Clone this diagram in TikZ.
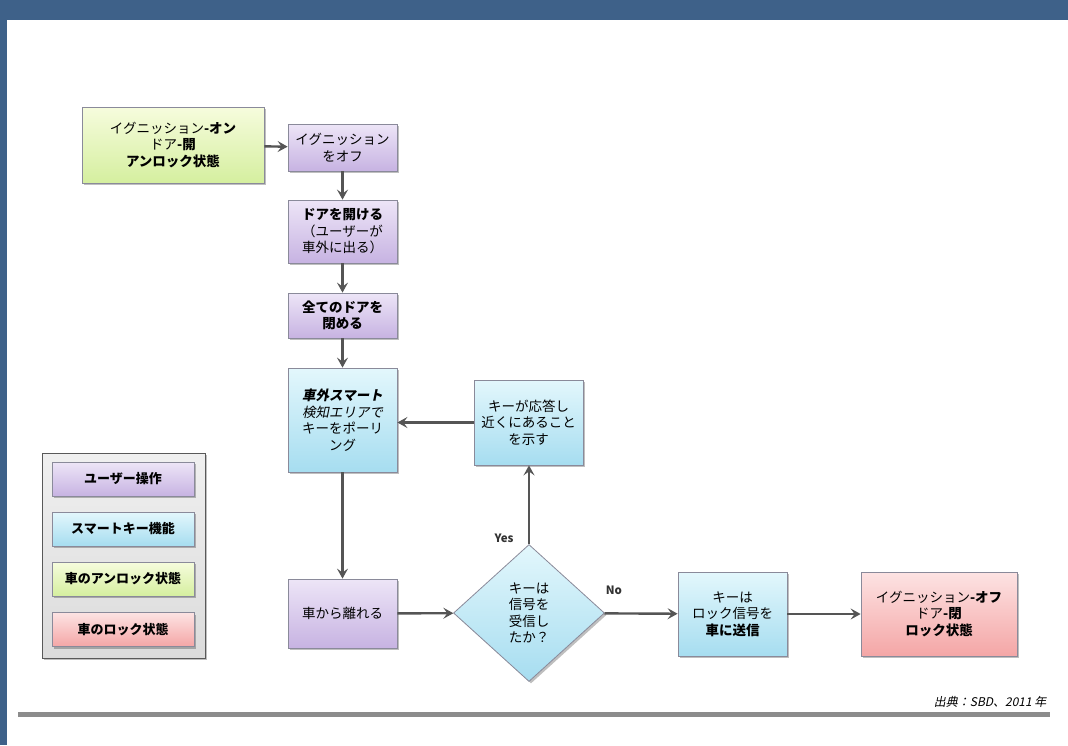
\documentclass[tikz,border=0pt]{standalone}
\usepackage{fontspec}
\setmainfont{Noto Sans CJK JP}
\newfontfamily\slantfont[FakeSlant=0.2]{Noto Sans CJK JP}
\usetikzlibrary{shapes.geometric,arrows.meta,shadows}
\definecolor{bgblue}{HTML}{3E6189}
\definecolor{purpA}{HTML}{EDE5F7}
\definecolor{purpB}{HTML}{C7B3E2}
\definecolor{blueA}{HTML}{E3F7FC}
\definecolor{blueB}{HTML}{A6DDF0}
\definecolor{greenA}{HTML}{F6FCDD}
\definecolor{greenB}{HTML}{D5EF9F}
\definecolor{pinkA}{HTML}{FDE3E3}
\definecolor{pinkB}{HTML}{F4A6A6}
\definecolor{edgegray}{HTML}{8A8A9A}
\definecolor{arrowgray}{HTML}{555555}
\tikzset{
  x=1pt,y=-1pt,
  base/.style={draw=edgegray,line width=0.8pt,align=center,inner sep=1pt,
    font=\fontsize{13.5}{16.5}\selectfont,
    drop shadow={shadow xshift=2pt,shadow yshift=-2pt,fill=black,opacity=0.25}},
  purp/.style={base,top color=purpA,bottom color=purpB},
  bluebox/.style={base,top color=blueA,bottom color=blueB},
  greenbox/.style={base,top color=greenA,bottom color=greenB},
  pinkbox/.style={base,top color=pinkA,bottom color=pinkB},
  legitem/.style={minimum width=142pt,minimum height=34pt,font=\bfseries\fontsize{13}{15}\selectfont},
  arr/.style={draw=arrowgray,line width=2.4pt,-{Stealth[length=10pt,width=11pt,inset=4pt]}},
  lbl/.style={font=\bfseries\fontsize{11.5}{13}\selectfont,text=black!80},
}
\begin{document}
\begin{tikzpicture}
\useasboundingbox (0,0) rectangle (1068,745);
\fill[bgblue] (0,0) rectangle (1068,745);
\fill[white] (7,20) rectangle (1068,745);

% nodes
\node[greenbox,minimum width=182pt,minimum height=76pt] (A) at (173,145)
  {イグニッション\textbf{-オン}\\ドア\textbf{-開}\\\textbf{アンロック状態}};
\node[purp,minimum width=109pt,minimum height=47pt] (B) at (342.5,147.5)
  {イグニッション\\をオフ};
\node[purp,minimum width=109pt,minimum height=63pt] (C) at (342.5,231.5)
  {\textbf{ドアを開ける}\\（ユーザーが\\車外に出る）};
\node[purp,minimum width=109pt,minimum height=45pt] (D) at (342.5,315.5)
  {\textbf{全てのドアを}\\\textbf{閉める}};
\node[bluebox,minimum width=109pt,minimum height=104pt] (E) at (342.5,420)
  {{\slantfont\bfseries 車外スマート}\\{\slantfont 検知エリアで}\\キーをポーリ\\ング};
\node[bluebox,minimum width=109pt,minimum height=85pt] (F) at (528.5,422.5)
  {キーが応答し\\近くにあること\\を示す};
\node[purp,minimum width=109pt,minimum height=69pt] (G) at (342.5,613.5)
  {車から離れる};
\node[bluebox,diamond,minimum width=151pt,minimum height=137pt,aspect=1.1,inner sep=0pt] (H) at (529,613)
  {キーは\\信号を\\受信し\\たか？};
\node[bluebox,minimum width=109pt,minimum height=84pt] (I) at (732.5,614)
  {キーは\\ロック信号を\\\textbf{車に送信}};
\node[pinkbox,minimum width=156pt,minimum height=84pt] (J) at (939,614)
  {イグニッション\textbf{-オフ}\\ドア\textbf{-閉}\\\textbf{ロック状態}};

% legend
\node[draw=black!65,line width=1pt,top color=black!6,bottom color=black!14,
  minimum width=163pt,minimum height=205pt,
  drop shadow={shadow xshift=2pt,shadow yshift=-2pt,fill=black,opacity=0.25}] (L) at (123.5,555.5) {};
\node[purp,legitem] (L1) at (123,479) {ユーザー操作};
\node[bluebox,legitem] (L2) at (123,529) {スマートキー機能};
\node[greenbox,legitem] (L3) at (123,579) {車のアンロック状態};
\node[pinkbox,legitem] (L4) at (123,629.5) {車のロック状態};

% connectors
\draw[arr] (A) -- (B);
\draw[arr] (B) -- (C);
\draw[arr] (C) -- (D);
\draw[arr] (D) -- (E);
\draw[arr] (F.west) -- (E.east |- F.west);
\draw[arr] (E) -- (G);
\draw[arr] (G) -- (H);
\draw[arr] (H.north) -- (F.south -| H.north);
\draw[arr] (H) -- (I);
\draw[arr] (I) -- (J);

\node[lbl] (yes) at (504,538) {Yes};
\node[lbl] (no) at (614,590) {No};

% source and rule
\node[font=\slantfont\fontsize{12}{14}\selectfont,anchor=east] (src) at (1050,702) {出典：SBD、2011 年};
\coordinate (r1) at (18,714);
\coordinate (r2) at (1050,714);
\draw[line width=5pt,color=black!45] (r1) -- (r2);
\end{tikzpicture}
\end{document}
